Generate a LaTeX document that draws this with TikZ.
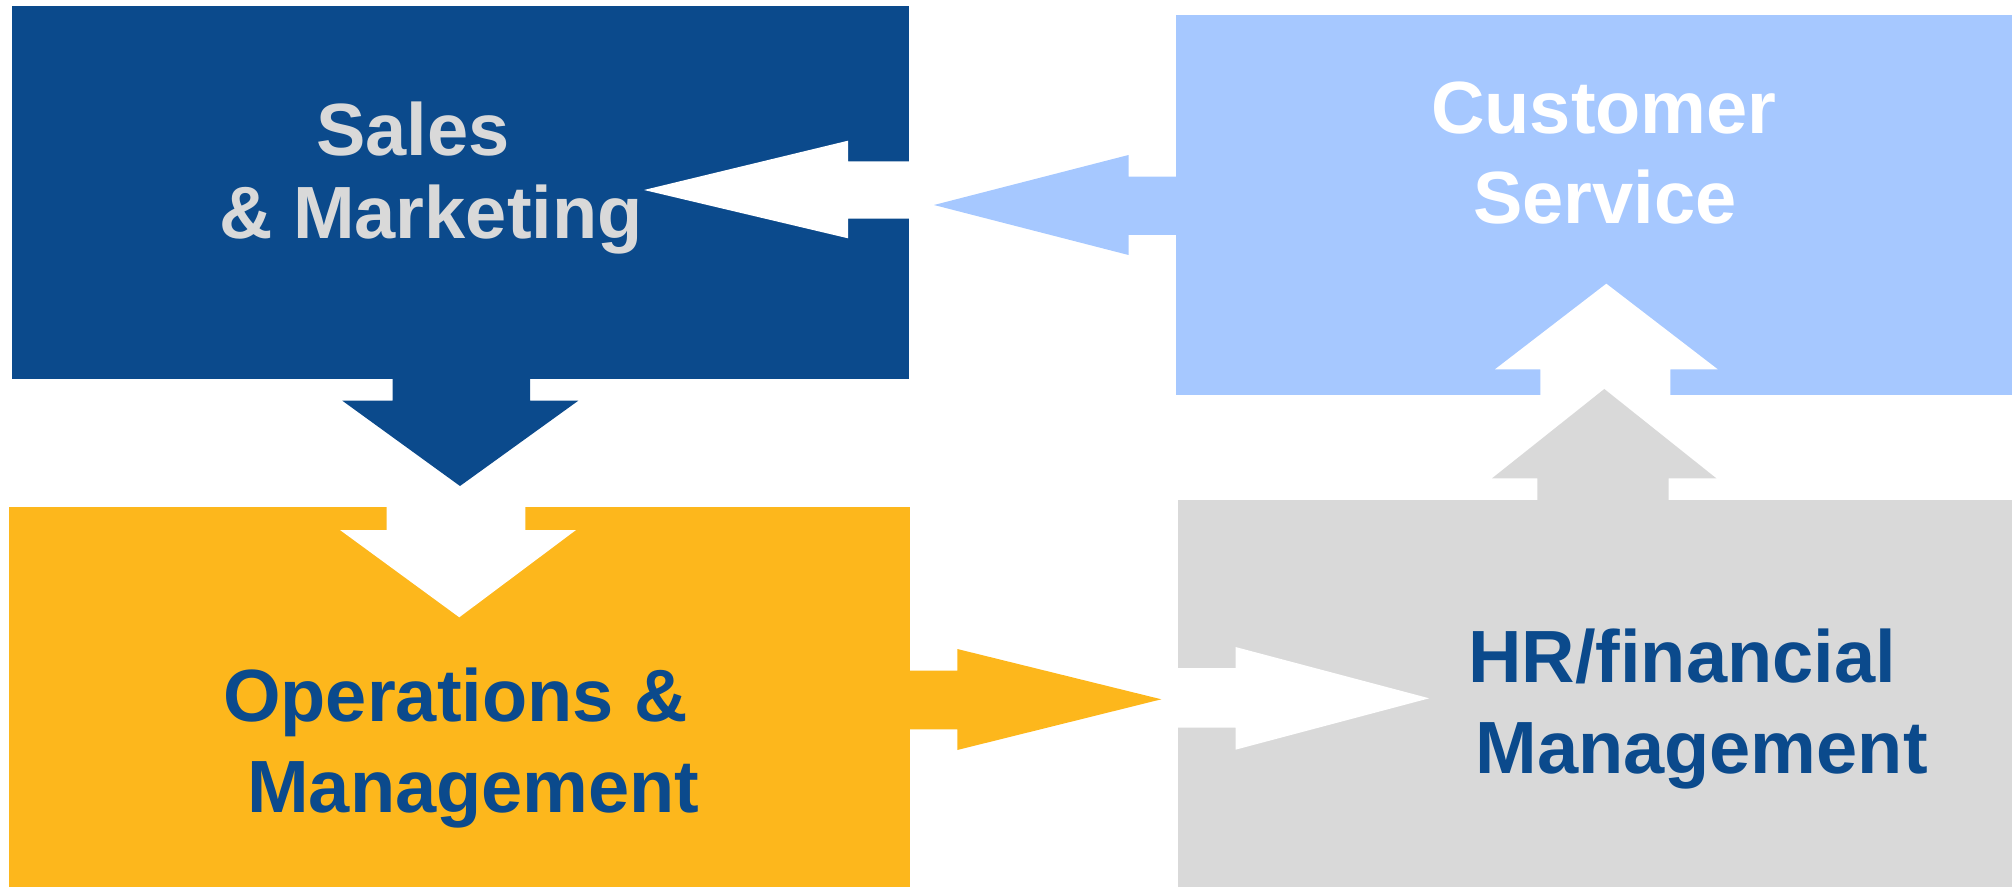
\documentclass[tikz,border=0pt]{standalone}
\usepackage{fontspec}
\setmainfont{Liberation Sans}[Ligatures=NoCommon]
\definecolor{navy}{HTML}{0B4A8C}
\definecolor{sky}{HTML}{A6C8FF}
\definecolor{amber}{HTML}{FDB71C}
\definecolor{silver}{HTML}{D9D9D9}
\begin{document}
\begin{tikzpicture}[x=0.5pt,y=-0.5pt,
  txt/.style={anchor=base, inner sep=0pt, font=\fontsize{37}{44}\selectfont\bfseries}]
\useasboundingbox (0,0) rectangle (2012,887);
% the four department boxes
\fill[navy]   (11.5,6.4)   coordinate (salesNW) rectangle (908.5,379.5) coordinate (salesSE);
\fill[sky]    (1176,15.4)  coordinate (custNW)  rectangle (2012,395)    coordinate (custSE);
\fill[amber]  (9,506.7)    coordinate (opsNW)   rectangle (910,887)     coordinate (opsSE);
\fill[silver] (1177.7,500) coordinate (hrNW)    rectangle (2012,887)    coordinate (hrSE);
% block arrows between the boxes
\fill[navy] (392.7,378) -- (392.7,400.7) -- (342.3,400.7) -- (460,486)
  -- (578.3,400.7) -- (530,400.7) -- (530,378) -- cycle;
\fill[white] (386.7,505) -- (386.7,530) -- (340,530) -- (459.3,617.3)
  -- (576,530) -- (525.3,530) -- (525.3,505) -- cycle;
\fill[white] (910,161.3) -- (848,161.3) -- (848,140.7) -- (644,190)
  -- (848,238.3) -- (848,218.7) -- (910,218.7) -- cycle;
\fill[sky] (1177,176.7) -- (1128.5,176.7) -- (1128.5,155) -- (934,205)
  -- (1128.5,255) -- (1128.5,235) -- (1177,235) -- cycle;
\fill[amber] (909,670.7) -- (957.3,670.7) -- (957.3,649) -- (1161.3,699.3)
  -- (957.3,750) -- (957.3,729.3) -- (909,729.3) -- cycle;
\fill[white] (1176,668) -- (1235.5,668) -- (1235.5,647) -- (1429.2,698.3)
  -- (1235.5,749.7) -- (1235.5,727.7) -- (1176,727.7) -- cycle;
\fill[white] (1540.3,396) -- (1540.3,369.3) -- (1495,369.3) -- (1606.3,283.7)
  -- (1717.7,369.3) -- (1670.3,369.3) -- (1670.3,396) -- cycle;
\fill[silver] (1537.3,501) -- (1537.3,478.3) -- (1492,478.3) -- (1604.3,389)
  -- (1716.3,478.3) -- (1668.7,478.3) -- (1668.7,501) -- cycle;
% labels
\node[txt, text=silver] (sales1) at (413,155.3) {Sales};
\node[txt, text=silver] (sales2) at (431,238.7) {\& Marketing};
\node[txt, text=white] (cust1) at (1604,133.5) {Customer};
\node[txt, text=white] (cust2) at (1605,223.3) {Service};
\node[txt, text=navy] (ops1) at (455.5,721) {Operations \&};
\node[txt, text=navy] (ops2) at (473.5,812) {Management};
\node[txt, text=navy] (hr1) at (1682,682.6) {HR/financial};
\node[txt, text=navy] (hr2) at (1701.5,773.8) {Management};
\end{tikzpicture}
\end{document}
